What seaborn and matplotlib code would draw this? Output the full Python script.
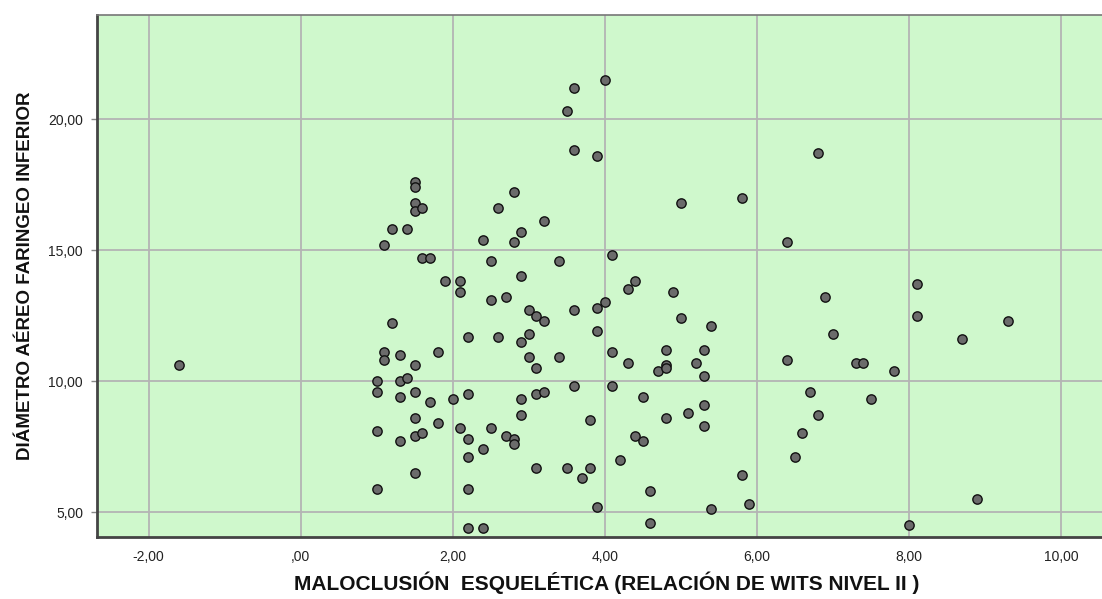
import matplotlib
matplotlib.use("Agg")
import matplotlib.pyplot as plt
import matplotlib.ticker as mticker
import pandas as pd
import seaborn as sns

# Relación de Wits (x) vs diámetro aéreo faríngeo inferior (y)
wits = [
    -1.6,
    1.0, 1.0, 1.0, 1.0,
    1.1, 1.1, 1.1,
    1.2, 1.2,
    1.3, 1.3, 1.3, 1.3,
    1.4, 1.4,
    1.5, 1.5, 1.5, 1.5, 1.5, 1.5, 1.5, 1.5, 1.5,
    1.6, 1.6, 1.6,
    1.7, 1.7,
    1.8, 1.8,
    1.9,
    2.0,
    2.1, 2.1, 2.1,
    2.2, 2.2, 2.2, 2.2, 2.2, 2.2,
    2.4, 2.4, 2.4,
    2.5, 2.5, 2.5,
    2.6, 2.6,
    2.7, 2.7,
    2.8, 2.8, 2.8, 2.8,
    2.9, 2.9, 2.9, 2.9, 2.9,
    3.0, 3.0, 3.0,
    3.1, 3.1, 3.1, 3.1,
    3.2, 3.2, 3.2,
    3.4, 3.4,
    3.5, 3.5,
    3.6, 3.6, 3.6, 3.6,
    3.7,
    3.8, 3.8,
    3.9, 3.9, 3.9, 3.9,
    4.0, 4.0,
    4.1, 4.1, 4.1,
    4.2,
    4.3, 4.3,
    4.4, 4.4,
    4.5, 4.5,
    4.6, 4.6,
    4.7,
    4.8, 4.8, 4.8, 4.8,
    4.9,
    5.0, 5.0,
    5.1,
    5.2,
    5.3, 5.3, 5.3, 5.3,
    5.4, 5.4,
    5.8, 5.8,
    5.9,
    6.4, 6.4,
    6.5,
    6.6,
    6.7,
    6.8, 6.8,
    6.9,
    7.0,
    7.3,
    7.4,
    7.5,
    7.8,
    8.0,
    8.1, 8.1,
    8.7,
    8.9,
    9.3,
]
diametro = [
    10.6,
    10.0, 9.6, 8.1, 5.9,
    15.2, 11.1, 10.8,
    15.8, 12.2,
    11.0, 10.0, 9.4, 7.7,
    15.8, 10.1,
    17.6, 17.4, 16.8, 16.5, 10.6, 9.6, 8.6, 7.9, 6.5,
    16.6, 14.7, 8.0,
    14.7, 9.2,
    11.1, 8.4,
    13.8,
    9.3,
    13.8, 13.4, 8.2,
    11.7, 9.5, 7.8, 7.1, 5.9, 4.4,
    15.4, 7.4, 4.4,
    14.6, 13.1, 8.2,
    16.6, 11.7,
    13.2, 7.9,
    17.2, 15.3, 7.8, 7.6,
    15.7, 14.0, 11.5, 9.3, 8.7,
    12.7, 11.8, 10.9,
    12.5, 10.5, 9.5, 6.7,
    16.1, 12.3, 9.6,
    14.6, 10.9,
    20.3, 6.7,
    21.2, 18.8, 12.7, 9.8,
    6.3,
    8.5, 6.7,
    18.6, 12.8, 11.9, 5.2,
    21.5, 13.0,
    14.8, 11.1, 9.8,
    7.0,
    13.5, 10.7,
    13.8, 7.9,
    9.4, 7.7,
    5.8, 4.6,
    10.4,
    11.2, 10.6, 10.5, 8.6,
    13.4,
    16.8, 12.4,
    8.8,
    10.7,
    11.2, 10.2, 9.1, 8.3,
    12.1, 5.1,
    17.0, 6.4,
    5.3,
    15.3, 10.8,
    7.1,
    8.0,
    9.6,
    18.7, 8.7,
    13.2,
    11.8,
    10.7,
    10.7,
    9.3,
    10.4,
    4.5,
    13.7, 12.5,
    11.6,
    5.5,
    12.3,
]

x_label = "MALOCLUSIÓN  ESQUELÉTICA (RELACIÓN DE WITS NIVEL II )"
y_label = "DIÁMETRO AÉREO FARINGEO INFERIOR"

df = pd.DataFrame({"wits": wits, "diametro": diametro})

sns.set_theme(style="white")
plt.rcParams["font.family"] = ["Liberation Sans", "DejaVu Sans"]

fig = plt.figure(figsize=(11.02, 5.99), dpi=100)
ax = fig.add_axes([0.088, 0.1035, 0.912, 0.8715])
ax.set_facecolor("#cff8cc")

sns.scatterplot(
    data=df, x="wits", y="diametro", ax=ax,
    s=45, color="#6b6b6b", edgecolor="#111111", linewidth=1.0, zorder=3,
)

ax.set_xlim(-2.68, 10.54)
ax.set_ylim(4.05, 23.97)
ax.set_xticks([-2, 0, 2, 4, 6, 8, 10])
ax.set_yticks([5, 10, 15, 20])


def coma(v, pos):
    s = f"{v:.2f}".replace(".", ",")
    return s[1:] if s.startswith("0,") else s


ax.xaxis.set_major_formatter(mticker.FuncFormatter(coma))
ax.yaxis.set_major_formatter(mticker.FuncFormatter(coma))
ax.grid(True, color="#b4b4b4", linewidth=1.3, zorder=0)
ax.set_axisbelow(True)

for side in ["left", "bottom"]:
    ax.spines[side].set_color("#444444")
    ax.spines[side].set_linewidth(2.0)
ax.spines["top"].set_color("#777777")
ax.spines["top"].set_linewidth(1.2)
ax.spines["right"].set_visible(False)

ax.tick_params(axis="x", length=0, pad=9, labelsize=10, colors="#222222")
ax.tick_params(axis="y", length=4, width=1, color="#888888", left=True,
               pad=6, labelsize=10, labelcolor="#222222")

ax.set_xlabel(x_label, fontsize=15, fontweight="bold", color="#111111", va="center")
ax.xaxis.set_label_coords(0.507, -0.088)
ax.set_ylabel(y_label, fontsize=13.5, fontweight="bold", color="#111111", va="center")
ax.yaxis.set_label_coords(-0.0716, 0.5)

fig.savefig("out.png", dpi=100)
